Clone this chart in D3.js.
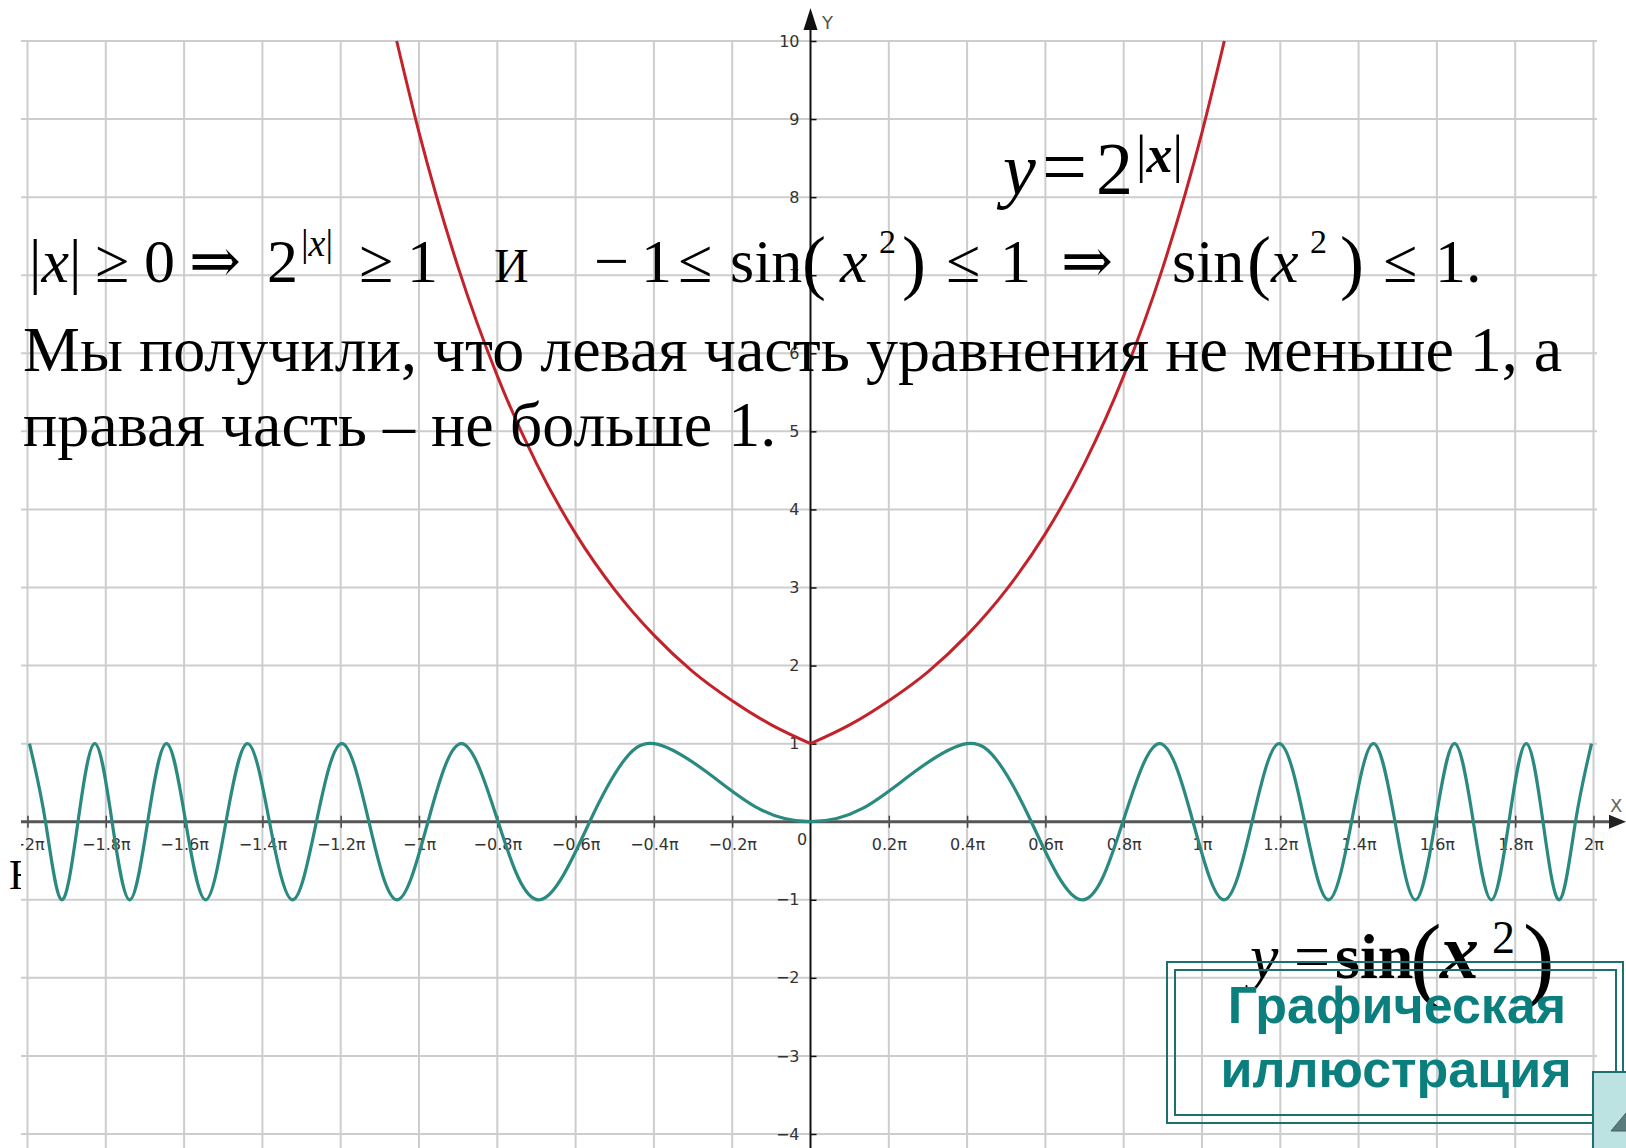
<!DOCTYPE html>
<html>
<head>
<meta charset="utf-8">
<script src="https://cdn.jsdelivr.net/npm/d3@7"></script>
<style>
  body { margin: 0; background: #fff; }
  svg { display: block; }
</style>
</head>
<body>
<script>
// x values are in units of pi
var xTicks = [-2, -1.8, -1.6, -1.4, -1.2, -1, -0.8, -0.6, -0.4, -0.2, 0.2, 0.4, 0.6, 0.8, 1, 1.2, 1.4, 1.6, 1.8, 2];
var xTickLabels = ["−2π", "−1.8π", "−1.6π", "−1.4π", "−1.2π", "−1π", "−0.8π", "−0.6π", "−0.4π", "−0.2π",
                   "0.2π", "0.4π", "0.6π", "0.8π", "1π", "1.2π", "1.4π", "1.6π", "1.8π", "2π"];
var yTicks = [-4, -3, -2, -1, 1, 2, 3, 4, 5, 6, 7, 8, 9, 10];
var yTickLabels = ["−4", "−3", "−2", "−1", "1", "2", "3", "4", "5", "6", "7", "8", "9", "10"];

// y = 2^|x|
var expX = [-1.057, -1, -0.9, -0.8, -0.7, -0.6, -0.5, -0.4, -0.3, -0.2, -0.1, 0,
            0.1, 0.2, 0.3, 0.4, 0.5, 0.6, 0.7, 0.8, 0.9, 1, 1.057];
var expY = [10, 8.83, 7.1, 5.71, 4.59, 3.69, 2.97, 2.39, 1.92, 1.55, 1.24, 1,
            1.24, 1.55, 1.92, 2.39, 2.97, 3.69, 4.59, 5.71, 7.1, 8.83, 10];

// y = sin(x^2), peaks, troughs and zero crossings of the teal curve
var sinX = [-1.995, -1.954, -1.913, -1.871, -1.828, -1.784, -1.739, -1.693, -1.645, -1.596, -1.545,
            -1.493, -1.438, -1.382, -1.323, -1.262, -1.197, -1.128, -1.056, -0.977, -0.892, -0.798,
            -0.691, -0.564, -0.48, -0.399, -0.266, -0.133, 0, 0.133, 0.266, 0.399, 0.48, 0.564, 0.691, 0.798,
            0.892, 0.977, 1.056, 1.128, 1.197, 1.262, 1.323, 1.382, 1.438, 1.493, 1.545, 1.596, 1.645,
            1.693, 1.739, 1.784, 1.828, 1.871, 1.913, 1.954, 1.995];
var sinY = [1, 0, -1, 0, 1, 0, -1, 0, 1, 0, -1,
            0, 1, 0, -1, 0, 1, 0, -1, 0, 1, 0,
            -1, 0, 0.76, 1, 0.64, 0.17, 0, 0.17, 0.64, 1, 0.76, 0, -1, 0,
            1, 0, -1, 0, 1, 0, -1, 0, 1, 0, -1, 0, 1,
            0, -1, 0, 1, 0, -1, 0, 1];

var W = 1626, H = 1148;
var serif = "'Liberation Serif', 'Times New Roman', 'DejaVu Serif', serif";
var sans = "'DejaVu Sans', Verdana, sans-serif";
var svg = d3.select("body").append("svg").attr("width", W).attr("height", H);

var x = d3.scaleLinear().domain([-2, 2]).range([27.5, 1593.5]);
var y = d3.scaleLinear().domain([-4, 10]).range([1134, 41]);
var left = 21, right = 1597;

svg.append("clipPath").attr("id", "pic")
  .append("rect").attr("x", left).attr("y", 0).attr("width", W - left).attr("height", H);

// cut-off letter behind the graph picture
svg.append("text").attr("x", 9).attr("y", 889)
  .attr("font-family", serif).attr("font-size", 42).text("Н");

var pic = svg.append("g").attr("clip-path", "url(#pic)");
pic.append("rect").attr("x", left).attr("y", 0)
  .attr("width", W - left).attr("height", H).attr("fill", "#fff");

// grid
var grid = pic.append("g").attr("stroke", "#cdcdcd").attr("stroke-width", 2);
grid.selectAll(".gv").data(xTicks).enter().append("line")
  .attr("x1", d => x(d)).attr("x2", d => x(d))
  .attr("y1", y(10)).attr("y2", H);
grid.selectAll(".gh").data(yTicks).enter().append("line")
  .attr("x1", left).attr("x2", right)
  .attr("y1", d => y(d)).attr("y2", d => y(d));

// x axis
var xAxis = pic.append("g")
  .attr("transform", `translate(0, ${y(0)})`)
  .call(d3.axisBottom(x).tickValues(xTicks)
    .tickFormat((d, i) => xTickLabels[i]).tickSize(6).tickPadding(11));
xAxis.select(".domain").remove();
xAxis.selectAll(".tick line").attr("y1", -6).attr("stroke", "#444").attr("stroke-width", 1.5);
xAxis.selectAll(".tick text")
  .attr("font-family", sans).attr("font-size", 16).attr("fill", "#333");
pic.append("line")
  .attr("x1", left).attr("x2", 1612)
  .attr("y1", y(0)).attr("y2", y(0))
  .attr("stroke", "#555").attr("stroke-width", 3);
pic.append("path")
  .attr("d", `M${W},${y(0)} L1609,${y(0) - 7} L1609,${y(0) + 7} Z`)
  .attr("fill", "#222");
pic.append("text").attr("x", 1610).attr("y", 812)
  .attr("font-family", sans).attr("font-size", 18)
  .attr("fill", "#666").text("X");
pic.append("text").attr("x", 802).attr("y", 845).attr("text-anchor", "middle")
  .attr("font-family", sans).attr("font-size", 16)
  .attr("fill", "#333").text("0");

// y axis
var yAxis = pic.append("g")
  .attr("transform", `translate(${x(0)}, 0)`)
  .call(d3.axisLeft(y).tickValues(yTicks)
    .tickFormat((d, i) => yTickLabels[i]).tickSize(6).tickPadding(5));
yAxis.select(".domain").remove();
yAxis.selectAll(".tick line").attr("x2", 6).attr("stroke", "#111").attr("stroke-width", 1.5);
yAxis.selectAll(".tick text")
  .attr("font-family", sans).attr("font-size", 16).attr("fill", "#333");
pic.append("line")
  .attr("x1", x(0)).attr("x2", x(0))
  .attr("y1", 25).attr("y2", H)
  .attr("stroke", "#111").attr("stroke-width", 2);
pic.append("path")
  .attr("d", `M${x(0)},8 L${x(0) - 7},30 L${x(0) + 7},30 Z`)
  .attr("fill", "#111");
pic.append("text").attr("x", 822).attr("y", 29)
  .attr("font-family", sans).attr("font-size", 18)
  .attr("fill", "#555").text("Y");

// curves
var sinPts = sinX.map((d, i) => [d, sinY[i]]);
var expPts = expX.map((d, i) => [d, expY[i]]);

pic.append("path")
  .datum(sinPts)
  .attr("d", d3.line().x(d => x(d[0])).y(d => y(d[1])).curve(d3.curveNatural))
  .attr("fill", "none").attr("stroke", "#2b8a80").attr("stroke-width", 3.2);

[expPts.filter(d => d[0] <= 0), expPts.filter(d => d[0] >= 0)].forEach(branch => {
  pic.append("path")
    .datum(branch)
    .attr("d", d3.line().x(d => x(d[0])).y(d => y(d[1])).curve(d3.curveMonotoneX))
    .attr("fill", "none").attr("stroke", "#c4222b").attr("stroke-width", 3);
});

// text over the picture
function put(px, py, s, size, italic, bold) {
  return svg.append("text").attr("x", px).attr("y", py)
    .attr("font-family", serif).attr("font-size", size)
    .attr("font-style", italic ? "italic" : null)
    .attr("font-weight", bold ? "bold" : null)
    .attr("fill", "#000")
    .text(s);
}

var b1 = 282;
var t = put(29, b1, "|", 62);
t.append("tspan").attr("font-style", "italic").text("x");
t.append("tspan").text("|");
put(95, b1, "≥", 62);
put(144, b1, "0", 62);
put(189, b1, "⇒", 62);
put(267, b1, "2", 62);
t = put(301, b1 - 26, "|", 38);
t.append("tspan").attr("font-style", "italic").text("x");
t.append("tspan").text("|");
put(359, b1, "≥", 62);
put(407, b1, "1", 62);
put(494, b1, "И", 48);
put(594, b1, "−", 62);
put(641, b1, "1", 62);
put(678, b1, "≤", 62);
put(730, b1, "sin", 62);
put(802, b1 + 4, "(", 72);
put(840, b1, "x", 62, true);
put(879, b1 - 29, "2", 34);
put(902, b1 + 4, ")", 72);
put(946, b1, "≤", 62);
put(1000, b1, "1", 62);
put(1061, b1, "⇒", 62);
put(1172, b1, "sin", 62);
put(1247, b1 + 4, "(", 72);
put(1271, b1, "x", 62, true);
put(1310, b1 - 29, "2", 34);
put(1340, b1 + 4, ")", 72);
put(1383, b1, "≤", 62);
put(1435, b1, "1", 62);
put(1466, b1, ".", 62);

put(23, 371, "Мы получили, что левая часть уравнения не меньше 1, а", 64);
put(23, 446, "правая часть – не больше 1.", 64);

// curve labels
put(1003, 194, "y", 74, true);
put(1042, 194, "=", 80);
put(1096, 194, "2", 74);
t = put(1136, 172, "|", 52);
t.append("tspan").attr("font-style", "italic").attr("font-weight", "bold").text("x");
t.append("tspan").text("|");

put(1250, 978, "y", 64, true);
put(1294, 978, "=", 64);
put(1335, 978, "sin", 64, false, true);
put(1410, 990, "(", 95);
put(1440, 978, "x", 78, true, true);
put(1492, 953, "2", 46);
put(1523, 990, ")", 95);

// caption box
var teal = "#1d6f70";
svg.append("rect").attr("x", 1167).attr("y", 962).attr("width", 456).attr("height", 161)
  .attr("fill", "none").attr("stroke", teal).attr("stroke-width", 2);
svg.append("rect").attr("x", 1175).attr("y", 970).attr("width", 441).attr("height", 145)
  .attr("fill", "none").attr("stroke", teal).attr("stroke-width", 2);
svg.append("text").attr("x", 1397).attr("y", 1023).attr("text-anchor", "middle")
  .attr("font-family", "'Liberation Sans', Arial, sans-serif").attr("font-weight", "bold")
  .attr("font-size", 52).attr("fill", "#0b7f7e").text("Графическая");
svg.append("text").attr("x", 1396).attr("y", 1087).attr("text-anchor", "middle")
  .attr("font-family", "'Liberation Sans', Arial, sans-serif").attr("font-weight", "bold")
  .attr("font-size", 52).attr("fill", "#0b7f7e").text("иллюстрация");

// navigation button in the corner
svg.append("rect").attr("x", 1593).attr("y", 1072).attr("width", 60).attr("height", 100)
  .attr("fill", "#bde2e2").attr("stroke", teal).attr("stroke-width", 2);
svg.append("path").attr("d", "M1611,1131 L1626,1113 L1641,1131 Z")
  .attr("fill", "#5b7c7c").attr("stroke", "#3e6060").attr("stroke-width", 1);
</script>
</body>
</html>
